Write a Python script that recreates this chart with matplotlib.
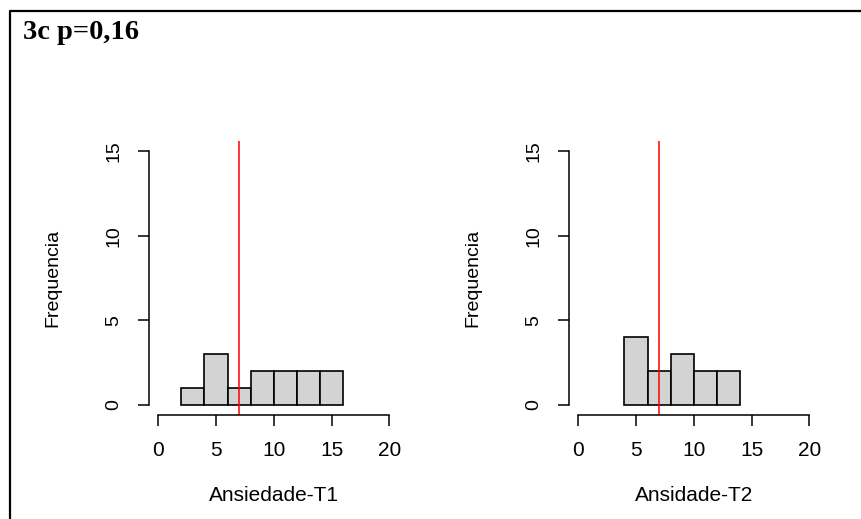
import numpy as np
import matplotlib
matplotlib.use('Agg')
import matplotlib.pyplot as plt
from matplotlib.lines import Line2D

plt.rcParams['font.family'] = ['Liberation Sans', 'DejaVu Sans']

# histogram data (bin edges + counts per bin)
t1_edges = [2, 4, 6, 8, 10, 12, 14, 16]
t1_counts = [1, 3, 1, 2, 2, 2, 2]
t2_edges = [4, 6, 8, 10, 12, 14]
t2_counts = [4, 2, 3, 2, 2]
cutoff = 7

x_ticks = [0, 5, 10, 15, 20]
y_ticks = [0, 5, 10, 15]
panel_labels = ['Ansiedade-T1', 'Ansidade-T2']
title = '3c p=0,16'

W, H = 861, 519
fig = plt.figure(figsize=(W / 100, H / 100), dpi=100)


def draw_panel(left_px, edges, counts, xlabel):
    ax = fig.add_axes([left_px / W, 104 / H, 249.5 / W, 274 / H])
    ax.bar(edges[:-1], counts, width=np.diff(edges), align='edge',
           color='#d3d3d3', edgecolor='black', linewidth=1.2)
    ax.axvline(cutoff, color='red', linewidth=1.1)
    ax.set_xlim(-0.8, 20.8)
    ax.set_ylim(-0.6, 15.6)
    ax.set_xticks(x_ticks)
    ax.set_yticks(y_ticks)
    for s in ['top', 'right']:
        ax.spines[s].set_visible(False)
    ax.spines['left'].set_bounds(0, 15)
    ax.spines['bottom'].set_bounds(0, 20)
    ax.spines['left'].set_linewidth(1.1)
    ax.spines['bottom'].set_linewidth(1.1)
    ax.tick_params(axis='both', length=8, width=1.1)
    ax.tick_params(axis='x', pad=10.5, labelsize=15)
    ax.tick_params(axis='y', pad=11, labelsize=14)
    for lab in ax.get_yticklabels():
        lab.set_rotation(90)
        lab.set_va('center')
    ax.set_xlabel(xlabel, fontsize=15)
    ax.xaxis.set_label_coords(0.5, -0.26)
    ax.set_ylabel('Frequencia', fontsize=14)
    ax.yaxis.set_label_coords(-0.35, 0.5)
    return ax


draw_panel(149, t1_edges, t1_counts, panel_labels[0])
draw_panel(569, t2_edges, t2_counts, panel_labels[1])

fig.text(23 / W, (H - 39) / H, title, fontsize=20.5, fontweight='bold',
         family='Liberation Serif', va='baseline', ha='left')

# outer frame (left + top only visible)
x0, y0 = 9.5 / W, 1 - 11.2 / H
fig.add_artist(Line2D([x0, x0, 1.0], [0.0, y0, y0], transform=fig.transFigure,
                      color='black', linewidth=1.6))

fig.savefig('out.png', dpi=100)
